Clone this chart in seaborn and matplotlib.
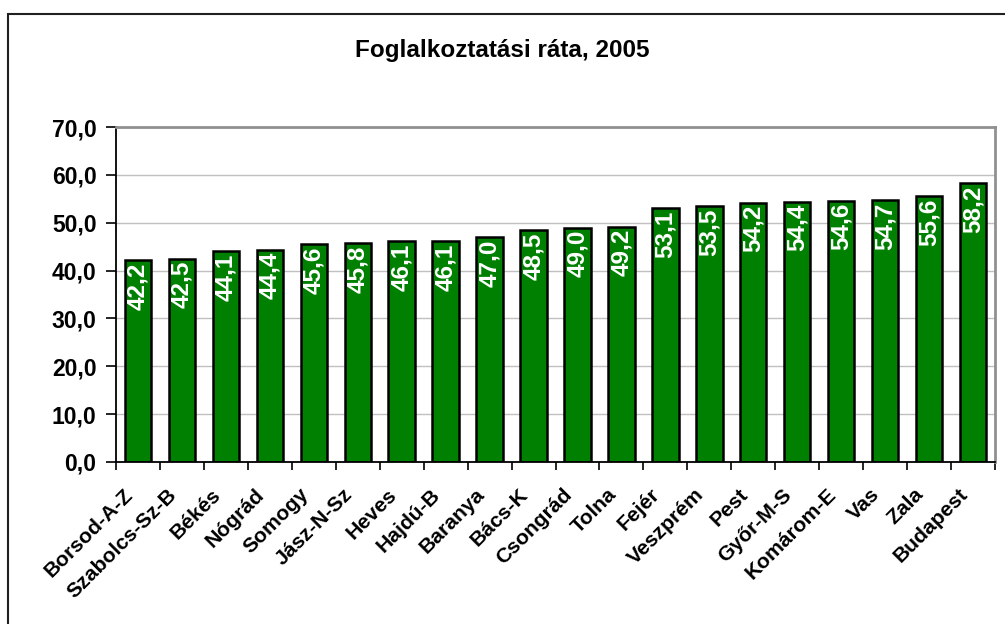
import matplotlib
matplotlib.use("Agg")
import matplotlib.pyplot as plt
import seaborn as sns
import pandas as pd
from matplotlib.ticker import FuncFormatter, FixedLocator
from matplotlib.patches import Rectangle
from matplotlib.transforms import ScaledTranslation

counties = ["Borsod-A-Z", "Szabolcs-Sz-B", "Békés", "Nógrád", "Somogy", "Jász-N-Sz",
            "Heves", "Hajdú-B", "Baranya", "Bács-K", "Csongrád", "Tolna", "Fejér",
            "Veszprém", "Pest", "Győr-M-S", "Komárom-E", "Vas", "Zala", "Budapest"]
rates = [42.2, 42.5, 44.1, 44.4, 45.6, 45.8, 46.1, 46.1, 47.0, 48.5, 49.0, 49.2,
         53.1, 53.5, 54.2, 54.4, 54.6, 54.7, 55.6, 58.2]
title = "Foglalkoztatási ráta, 2005"

sns.set_style("white")
plt.rcParams["font.family"] = ["Liberation Sans", "DejaVu Sans"]
plt.rcParams["font.weight"] = "bold"
plt.rcParams["text.color"] = "black"
plt.rcParams["xtick.color"] = "black"
plt.rcParams["ytick.color"] = "black"
plt.rcParams["axes.labelcolor"] = "black"

df = pd.DataFrame({"county": counties, "rate": rates})

fig = plt.figure(figsize=(10.05, 6.24), dpi=100)
ax = fig.add_axes([116/1005, 1-462/624, (995-116)/1005, (462-127)/624])

sns.barplot(data=df, x="county", y="rate", color="#008000", saturation=1,
            width=0.6, edgecolor="black", linewidth=1.8, ax=ax)

ax.set_ylim(0, 70)
ax.set_xlim(-0.5, len(counties) - 0.5)
ax.yaxis.set_major_locator(FixedLocator([0, 10, 20, 30, 40, 50, 60, 70]))
ax.yaxis.set_major_formatter(FuncFormatter(lambda v, p: f"{v:.1f}".replace(".", ",")))
ax.grid(axis="y", color="#c0c0c0", linewidth=1)
ax.set_axisbelow(True)
ax.set_xlabel("")
ax.set_ylabel("")

for s in ["left", "bottom"]:
    ax.spines[s].set_color("black")
    ax.spines[s].set_linewidth(1.3)
for s in ["top", "right"]:
    ax.spines[s].set_color("#909090")
    ax.spines[s].set_linewidth(2)
    ax.spines[s].set_visible(True)

ax.tick_params(axis="y", which="major", direction="out", length=7, width=1.2,
               color="black", labelcolor="black", labelsize=16.5, pad=7, left=True)
for lab in ax.get_yticklabels():
    lab.set_fontweight("bold")

# category boundaries as tick marks, labels drawn separately
ax.set_xticks([i - 0.5 for i in range(len(counties) + 1)], minor=True)
ax.tick_params(axis="x", which="minor", direction="out", length=6, width=1.2,
               color="black", bottom=True)
ax.set_xticks(range(len(counties)))
ax.set_xticklabels([])
ax.tick_params(axis="x", which="major", length=0)

shift = ScaledTranslation(-15/100, -23/100, fig.dpi_scale_trans)
xform = ax.get_xaxis_transform() + shift
for i, name in enumerate(counties):
    ax.text(i, 0, name, transform=xform, rotation=45, ha="right", va="top",
            rotation_mode="anchor", fontsize=15.2, fontweight="bold",
            color="black", clip_on=False)

for patch, val in zip(ax.patches, rates):
    ax.text(patch.get_x() + patch.get_width() / 2, patch.get_height() - 0.5,
            f"{val:.1f}".replace(".", ","), rotation=90, ha="center", va="top",
            color="white", fontsize=17.5, fontweight="bold")

fig.text(0.5, 1 - 50/624, title, ha="center", va="center", fontsize=17.5,
         fontweight="bold", color="black")

fig.patches.append(Rectangle((8/1005, -0.1), 1.2, 1 - 14/624 + 0.1,
                             transform=fig.transFigure, fill=False,
                             edgecolor="#202020", linewidth=1.5))

fig.savefig("out.png", dpi=100)
